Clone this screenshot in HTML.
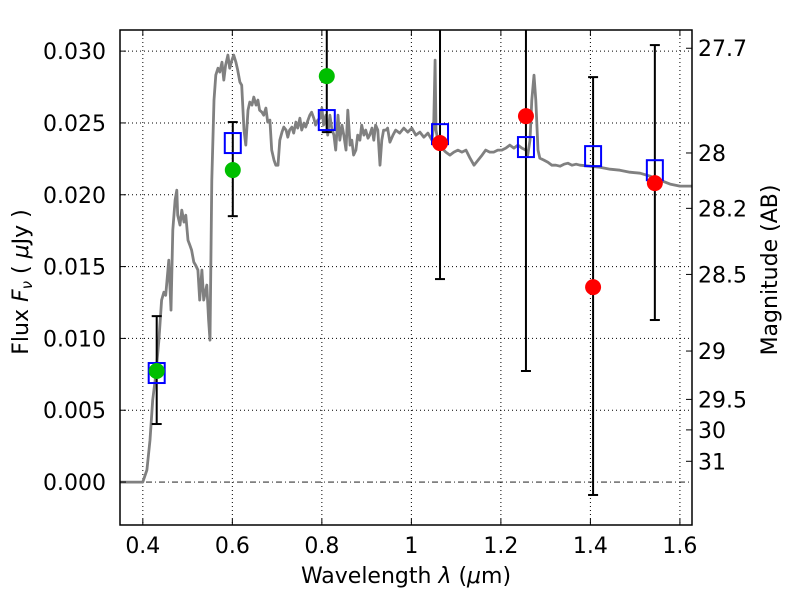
<!DOCTYPE html>
<html><head><meta charset="utf-8"><style>
html,body{margin:0;padding:0;background:#fff;}
svg{display:block;font-family:"DejaVu Sans","Liberation Sans",sans-serif;}
</style></head><body>
<svg id="chart" width="800" height="600" viewBox="0 0 800 600"></svg>
<script>
// ---- data ----
const specWave = [0.349,0.400,0.409,0.416,0.422,0.429,0.436,0.442,0.447,0.451,0.458,0.463,0.467,0.472,0.476,0.478,0.483,0.487,0.492,0.496,0.501,0.505,0.509,0.514,0.518,0.523,0.527,0.532,0.536,0.543,0.547,0.550,0.554,0.559,0.563,0.568,0.572,0.577,0.581,0.585,0.590,0.594,0.599,0.603,0.608,0.612,0.617,0.621,0.626,0.630,0.635,0.639,0.644,0.648,0.653,0.657,0.661,0.666,0.670,0.675,0.679,0.684,0.688,0.693,0.697,0.702,0.706,0.711,0.715,0.720,0.724,0.728,0.733,0.737,0.742,0.746,0.751,0.755,0.760,0.764,0.769,0.773,0.777,0.782,0.786,0.791,0.796,0.800,0.804,0.809,0.813,0.818,0.822,0.827,0.831,0.836,0.840,0.845,0.849,0.854,0.858,0.863,0.867,0.871,0.876,0.880,0.885,0.889,0.894,0.898,0.903,0.907,0.912,0.916,0.920,0.925,0.930,0.934,0.938,0.943,0.947,0.952,0.959,0.965,0.974,0.983,0.992,1.001,1.010,1.019,1.028,1.037,1.046,1.050,1.053,1.055,1.059,1.068,1.077,1.086,1.095,1.104,1.113,1.122,1.131,1.140,1.149,1.158,1.166,1.175,1.184,1.193,1.202,1.211,1.220,1.229,1.238,1.247,1.256,1.260,1.265,1.269,1.274,1.278,1.283,1.287,1.296,1.305,1.314,1.323,1.332,1.341,1.350,1.359,1.368,1.377,1.399,1.421,1.444,1.466,1.488,1.511,1.533,1.555,1.578,1.600,1.627];
const specFlux = [0,0,0.00084,0.00292,0.00571,0.00745,0.00988,0.01267,0.01322,0.01300,0.01545,0.01197,0.01754,0.01963,0.02032,0.01858,0.01789,0.01893,0.01810,0.01858,0.01684,0.01650,0.01615,0.01531,0.01510,0.01476,0.01267,0.01476,0.01267,0.01371,0.01128,0.00988,0.02102,0.02659,0.02833,0.02881,0.02854,0.02923,0.02798,0.02902,0.02972,0.02881,0.02937,0.02972,0.02923,0.02868,0.02784,0.02763,0.02450,0.02346,0.02589,0.02645,0.02624,0.02680,0.02624,0.02659,0.02589,0.02575,0.02554,0.02603,0.02506,0.02520,0.02311,0.02241,0.02206,0.02206,0.02380,0.02436,0.02471,0.02450,0.02401,0.02450,0.02471,0.02429,0.02506,0.02464,0.02533,0.02450,0.02499,0.02471,0.02520,0.02554,0.02575,0.02533,0.02485,0.02520,0.02533,0.02603,0.02485,0.02554,0.02415,0.02554,0.02464,0.02415,0.02311,0.02554,0.02380,0.02485,0.02415,0.02311,0.02589,0.02346,0.02380,0.02276,0.02311,0.02415,0.02380,0.02485,0.02415,0.02450,0.02394,0.02415,0.02464,0.02380,0.02485,0.02450,0.02206,0.02380,0.02450,0.02450,0.02464,0.02366,0.02415,0.02450,0.02429,0.02464,0.02436,0.02464,0.02415,0.02436,0.02401,0.02429,0.02380,0.02485,0.02937,0.02450,0.02380,0.02325,0.02297,0.02276,0.02297,0.02311,0.02297,0.02311,0.02255,0.02206,0.02241,0.02276,0.02311,0.02297,0.02297,0.02311,0.02311,0.02325,0.02346,0.02325,0.02346,0.02325,0.02311,0.02276,0.02380,0.02659,0.02833,0.02659,0.02311,0.02255,0.02241,0.02227,0.02206,0.02206,0.02199,0.02213,0.02220,0.02206,0.02213,0.02206,0.02199,0.02192,0.02178,0.02171,0.02157,0.02150,0.02130,0.02102,0.02074,0.02060,0.02060];
const bandWave = [0.431,0.601,0.811,1.064,1.256,1.406,1.544];
const modelFlux = [0.00759,0.02360,0.02520,0.02422,0.02332,0.02269,0.02171];
const errLo = [0.00404,0.01851,0.02436,0.01413,0.00773,-0.0009,0.01128];
const errHi = [0.01155,0.02506,0.04000,0.04000,0.04000,0.02819,0.03042];
const greenWave = [0.431,0.601,0.811];
const greenFlux = [0.00773,0.02172,0.02826];
const redWave = [1.064,1.256,1.406,1.544];
const redFlux = [0.02360,0.02547,0.01357,0.02081];
const xTicks = [0.4,0.6,0.8,1.0,1.2,1.4,1.6];
const xTickLabels = ["0.4","0.6","0.8","1","1.2","1.4","1.6"];
const yTicks = [0,0.005,0.010,0.015,0.020,0.025,0.030];
const yTickLabels = ["0.000","0.005","0.010","0.015","0.020","0.025","0.030"];
const magTicks = [27.7,28,28.2,28.5,29,29.5,30,31];
const magTickLabels = ["27.7","28","28.2","28.5","29","29.5","30","31"];

// ---- layout ----
const L=120,R=692,T=30,B=525;
const X0=0.349,X1=1.627,Y0=-0.00299,Y1=0.03147;
const sx=v=>L+(v-X0)/(X1-X0)*(R-L);
const sy=v=>B-(v-Y0)/(Y1-Y0)*(B-T);
const magToFlux=m=>Math.pow(10,(23.9-m)/2.5);
const svg=document.getElementById('chart');
const NS='http://www.w3.org/2000/svg';
function mk(tag,attrs,parent){const e=document.createElementNS(NS,tag);for(const k in attrs)e.setAttribute(k,attrs[k]);(parent||svg).appendChild(e);return e;}

const defs=mk('clipPath',{id:'clip'});mk('rect',{x:L,y:T,width:R-L,height:B-T},defs);

// grid
const grid=mk('g',{});


xTicks.forEach(v=>{mk('line',{x1:sx(v),x2:sx(v),y1:T,y2:B,stroke:'#000','stroke-width':1,'stroke-dasharray':'1,3'},grid);});
yTicks.forEach(v=>{if(v!==0)mk('line',{x1:L,x2:R,y1:sy(v),y2:sy(v),stroke:'#000','stroke-width':1,'stroke-dasharray':'1,3'},grid);});
const zl=mk('line',{x1:L,x2:R,y1:sy(0),y2:sy(0),stroke:'#000','stroke-width':0.8,'stroke-dasharray':'6,3,1,3'});



// spectrum
const plot=mk('g',{'clip-path':'url(#clip)'});
let d='';specWave.forEach((w,i)=>{d+=(i?'L':'M')+sx(w).toFixed(1)+','+sy(specFlux[i]).toFixed(1);});
const sp=mk('path',{d:d,fill:'none',stroke:'#808080','stroke-width':2.8,'stroke-linejoin':'round'},plot);



// error bars
bandWave.forEach((w,i)=>{
  const g=mk('g',{},plot);
  
  
  const x=sx(w);
  mk('line',{x1:x,x2:x,y1:sy(errLo[i]),y2:sy(errHi[i]),stroke:'#000','stroke-width':2},g);
  mk('line',{x1:x-5,x2:x+5,y1:sy(errLo[i]),y2:sy(errLo[i]),stroke:'#000','stroke-width':2},g);
  mk('line',{x1:x-5,x2:x+5,y1:sy(errHi[i]),y2:sy(errHi[i]),stroke:'#000','stroke-width':2},g);
});
// squares
bandWave.forEach((w,i)=>{
  const r=mk('rect',{x:sx(w)-8,y:sy(modelFlux[i])-10,width:16,height:20,fill:'none',stroke:'#0000ff','stroke-width':2},plot);
  
  
});
greenWave.forEach((w,i)=>{
  const c=mk('circle',{cx:sx(w),cy:sy(greenFlux[i]),r:8,fill:'#00bf00'},plot);
  
  
});
redWave.forEach((w,i)=>{
  const c=mk('circle',{cx:sx(w),cy:sy(redFlux[i]),r:8,fill:'#ff0000'},plot);
  
  
});

// frame
const fr=mk('rect',{x:L,y:T,width:R-L,height:B-T,fill:'none',stroke:'#000','stroke-width':1.5});



// ticks & labels
const FS=22;
const xa=mk('g',{});


xTicks.forEach((v,i)=>{
  const x=sx(v);
  mk('line',{x1:x,x2:x,y1:B,y2:B-6,stroke:'#000'},xa);
  mk('line',{x1:x,x2:x,y1:T,y2:T+6,stroke:'#000'},xa);
  const t=mk('text',{x:x,y:B+28,'font-size':FS,'text-anchor':'middle'},xa);t.textContent=xTickLabels[i];
});
const ya=mk('g',{});


yTicks.forEach((v,i)=>{
  const y=sy(v);
  mk('line',{x1:L,x2:L+6,y1:y,y2:y,stroke:'#000'},ya);
  const t=mk('text',{x:L-14,y:y+8,'font-size':FS,'text-anchor':'end'},ya);t.textContent=yTickLabels[i];
});
const ra=mk('g',{});


magTicks.forEach((m,i)=>{
  const y=sy(magToFlux(m));
  mk('line',{x1:R,x2:R-6,y1:y,y2:y,stroke:'#000'},ra);
  const t=mk('text',{x:R+6,y:y+8,'font-size':FS},ra);t.textContent=magTickLabels[i];
});

const xl=mk('text',{x:406,y:583,'font-size':FS,'text-anchor':'middle'});


xl.innerHTML='Wavelength  <tspan font-style="italic">λ</tspan> (<tspan font-style="italic">μ</tspan>m)';
const yl=mk('text',{x:0,y:0,'font-size':FS,'text-anchor':'middle',transform:'translate(28,282) rotate(-90)'});


yl.innerHTML='Flux  <tspan font-style="italic">F</tspan><tspan font-style="italic" font-size="15" dy="4">ν</tspan><tspan dy="-4">  ( </tspan><tspan font-style="italic">μ</tspan>Jy )';
const rl=mk('text',{x:0,y:0,'font-size':FS,'text-anchor':'middle',transform:'translate(777,270) rotate(-90)'});


rl.textContent='Magnitude (AB)';
</script>
</body></html>
